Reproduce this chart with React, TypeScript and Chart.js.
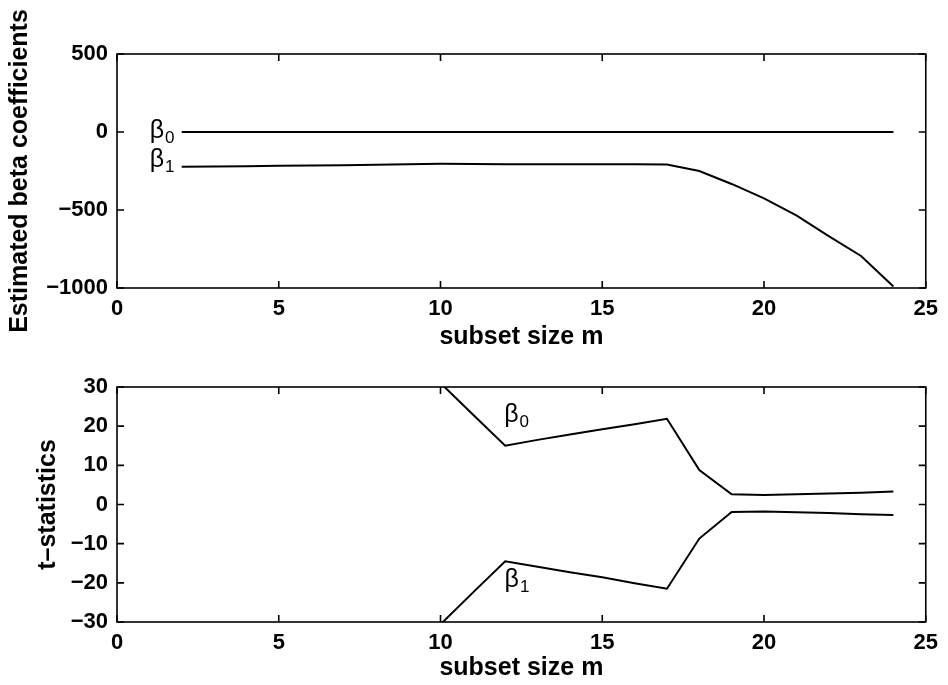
import React, { useEffect, useRef } from 'react';
import { Chart, registerables } from 'chart.js';

Chart.register(...registerables);

// Subset sizes for the estimated coefficients
const coefSizes = [2, 3, 4, 5, 6, 7, 8, 9, 10, 11, 12, 13, 14, 15, 16, 17, 18, 19, 20, 21, 22, 23, 24];
const coefBeta0 = [0, 0, 0, 0, 0, 0, 0, 0, 0, 0, 0, 0, 0, 0, 0, 0, 0, 0, 0, 0, 0, 0, 0];
const coefBeta1 = [-222, -221, -219, -217, -215, -213, -210, -207, -204, -205, -206, -207, -207, -207, -207, -208, -250, -333, -425, -534, -667, -795, -990];

// Subset sizes for the t-statistics (earlier values lie off the scale)
const tSizes = [10, 11, 12, 13, 14, 15, 16, 17, 18, 19, 20, 21, 22, 23, 24];
const tBeta0 = [31, 23, 15.0, 16.5, 17.9, 19.2, 20.5, 21.9, 8.8, 2.6, 2.4, 2.6, 2.8, 3.0, 3.3];
const tBeta1 = [-30.6, -22.5, -14.5, -15.9, -17.3, -18.6, -20.1, -21.5, -8.7, -1.9, -1.8, -2.0, -2.2, -2.5, -2.7];

// Axis ranges and tick steps
const xRange = [0, 25];
const xStep = 5;
const coefRange = [-1000, 500];
const coefStep = 500;
const tRange = [-30, 30];
const tStep = 10;

// Series annotations: [subscript, subset size, value] at the beta baseline
const coefTags: [string, number, number][] = [['0', 1.01, -40], ['1', 1.01, -222]];
const tTags: [string, number, number][] = [['0', 11.97, 21.1], ['1', 11.98, -21.1]];

const FONT = '"Liberation Sans", Arial, Helvetica, sans-serif';
const TICK_LEN = 7;

function toPoints(xs: number[], ys: number[]) {
  return xs.map((x, i) => ({ x, y: ys[i] }));
}

function boxPlugin(tags: [string, number, number][]) {
  return {
    id: 'boxAndTags',
    afterDatasetsDraw(chart: any) {
      const { ctx, chartArea: a, scales } = chart;
      const xs = scales.x;
      const ys = scales.y;
      ctx.save();
      ctx.strokeStyle = '#000';
      ctx.lineWidth = 1.6;
      ctx.strokeRect(a.left, a.top, a.right - a.left, a.bottom - a.top);
      ctx.beginPath();
      xs.ticks.forEach((t: any) => {
        const px = xs.getPixelForValue(t.value);
        ctx.moveTo(px, a.bottom);
        ctx.lineTo(px, a.bottom - TICK_LEN);
        ctx.moveTo(px, a.top);
        ctx.lineTo(px, a.top + TICK_LEN);
      });
      ys.ticks.forEach((t: any) => {
        const py = ys.getPixelForValue(t.value);
        ctx.moveTo(a.left, py);
        ctx.lineTo(a.left + TICK_LEN, py);
        ctx.moveTo(a.right, py);
        ctx.lineTo(a.right - TICK_LEN, py);
      });
      ctx.stroke();

      ctx.fillStyle = '#000';
      ctx.textAlign = 'left';
      ctx.textBaseline = 'alphabetic';
      tags.forEach(([sub, m, v]) => {
        const px = xs.getPixelForValue(m);
        const py = ys.getPixelForValue(v);
        ctx.font = `25px ${FONT}`;
        ctx.fillText('β', px, py);
        const w = ctx.measureText('β').width;
        ctx.font = `17px ${FONT}`;
        ctx.fillText(sub, px + w + 1, py + 5);
      });
      ctx.restore();
    },
  };
}

function makeConfig(opts: {
  xs: number[];
  b0: number[];
  b1: number[];
  yRange: number[];
  yStep: number;
  yTitle: string;
  yTitlePad: number;
  padTop: number;
  xHeight: number;
  xTitlePad: number;
  tags: [string, number, number][];
}): any {
  const line = (data: any[]) => ({
    data,
    borderColor: '#000',
    borderWidth: 2,
    pointRadius: 0,
    tension: 0,
    fill: false,
    clip: 0,
  });
  return {
    type: 'line',
    data: {
      datasets: [line(toPoints(opts.xs, opts.b0)), line(toPoints(opts.xs, opts.b1))],
    },
    options: {
      animation: false,
      responsive: false,
      devicePixelRatio: 1,
      layout: { padding: { top: opts.padTop, right: 17, left: 0, bottom: 0 } },
      plugins: { legend: { display: false }, tooltip: { enabled: false } },
      scales: {
        x: {
          type: 'linear',
          min: xRange[0],
          max: xRange[1],
          grid: { display: false, drawTicks: false },
          border: { display: false },
          ticks: {
            stepSize: xStep,
            color: '#000',
            padding: 10,
            maxRotation: 0,
            font: { family: FONT, size: 22, weight: 'bold', lineHeight: 1 },
          },
          title: {
            display: true,
            text: 'subset size m',
            color: '#000',
            padding: { top: 0, bottom: opts.xTitlePad },
            font: { family: FONT, size: 25, weight: 'bold', lineHeight: 1 },
          },
          afterFit(scale: any) {
            scale.height = opts.xHeight;
          },
        },
        y: {
          type: 'linear',
          min: opts.yRange[0],
          max: opts.yRange[1],
          grid: { display: false, drawTicks: false },
          border: { display: false },
          ticks: {
            stepSize: opts.yStep,
            color: '#000',
            padding: 9,
            font: { family: FONT, size: 22, weight: 'bold', lineHeight: 1 },
            callback: (v: number) => (v < 0 ? '\u2212' + Math.abs(v) : String(v)),
          },
          title: {
            display: true,
            text: opts.yTitle,
            color: '#000',
            padding: { top: opts.yTitlePad, bottom: 0 },
            font: { family: FONT, size: 25, weight: 'bold', lineHeight: 1 },
          },
          afterFit(scale: any) {
            scale.width = 117;
          },
        },
      },
    },
    plugins: [boxPlugin(opts.tags)],
  };
}

export default function App() {
  const topRef = useRef<HTMLCanvasElement>(null);
  const botRef = useRef<HTMLCanvasElement>(null);

  useEffect(() => {
    const top = new Chart(
      topRef.current as HTMLCanvasElement,
      makeConfig({
        xs: coefSizes,
        b0: coefBeta0,
        b1: coefBeta1,
        yRange: coefRange,
        yStep: coefStep,
        yTitle: 'Estimated beta coefficients',
        yTitlePad: 8,
        padTop: 54,
        xHeight: 62,
        xTitlePad: 0,
        tags: coefTags,
      })
    );
    const bottom = new Chart(
      botRef.current as HTMLCanvasElement,
      makeConfig({
        xs: tSizes,
        b0: tBeta0,
        b1: tBeta1,
        yRange: tRange,
        yStep: tStep,
        yTitle: 't\u2013statistics',
        yTitlePad: 36,
        padTop: 37,
        xHeight: 63,
        xTitlePad: 4,
        tags: tTags,
      })
    );
    return () => {
      top.destroy();
      bottom.destroy();
    };
  }, []);

  return (
    <div style={{ position: 'absolute', left: 0, top: 0, width: 948, height: 685, background: '#fff' }}>
      <canvas
        ref={topRef}
        width={948}
        height={350}
        style={{ position: 'absolute', left: 0, top: 0, width: 948, height: 350 }}
      />
      <canvas
        ref={botRef}
        width={948}
        height={335}
        style={{ position: 'absolute', left: 0, top: 350, width: 948, height: 335 }}
      />
    </div>
  );
}
